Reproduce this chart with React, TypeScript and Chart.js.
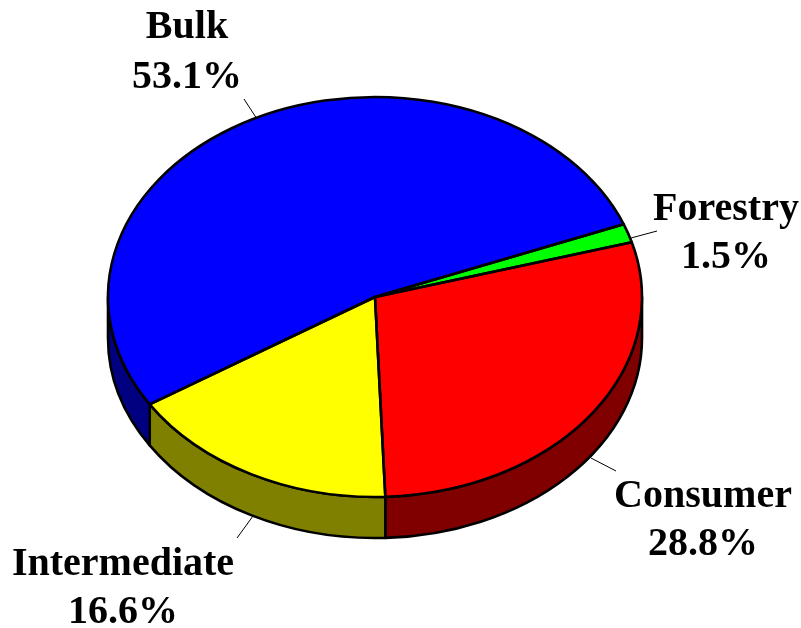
import React, { useEffect, useRef } from "react";
import { Chart, registerables } from "chart.js";

Chart.register(...registerables);

const categories = ["Consumer", "Intermediate", "Bulk", "Forestry"];
const shares = [28.8, 16.6, 53.1, 1.5];
const topColors = ["#ff0000", "#ffff00", "#0000ff", "#00ff00"];
const wallColors = ["#800000", "#808000", "#000080", "#008000"];

const W = 801;
const H = 628;
const CX = 375;
const CY = 297;
const RX = 267;
const RY = 200;
const DEPTH = 41;
const FONT = 'bold 40px "Liberation Serif"';
const OUTLINE = 2.6;

const labelPlacement = [
  { x: 703, y: 496.5, gap: 48, lx0: 591, ly0: 458, lx1: 616, ly1: 471 },
  { x: 123, y: 564.5, gap: 48, lx0: 253, ly0: 516, lx1: 237, ly1: 538 },
  { x: 187, y: 28, gap: 50, lx0: 257, ly0: 119, lx1: 244, ly1: 99 },
  { x: 726, y: 210, gap: 48, lx0: 631, ly0: 238, lx1: 657, ly1: 231 },
];

const pie3d = {
  id: "pie3d",
  beforeDatasetsDraw(chart: any) {
    const ctx = chart.ctx;
    const k = RY / RX;
    const arcs = chart.getDatasetMeta(0).data;
    arcs.forEach((arc: any, i: number) => {
      const norm = (a: number) => Math.atan2(Math.sin(a), Math.cos(a));
      let a0 = norm(arc.startAngle);
      let a1 = a0 + (arc.endAngle - arc.startAngle);
      if (a0 < 0 && a1 <= 0) return;
      a0 = Math.max(a0, 0);
      a1 = Math.min(a1, Math.PI);
      if (a1 <= a0) return;
      ctx.save();
      ctx.beginPath();
      ctx.ellipse(CX, CY, RX, RY, 0, a0, a1, false);
      ctx.ellipse(CX, CY + DEPTH, RX, RY, 0, a1, a0, true);
      ctx.closePath();
      ctx.fillStyle = wallColors[i];
      ctx.fill();
      ctx.strokeStyle = "#000";
      ctx.lineWidth = OUTLINE;
      ctx.lineJoin = "round";
      ctx.stroke();
      ctx.restore();
    });
    ctx.save();
    ctx.translate(0, CY);
    ctx.scale(1, k);
    ctx.translate(0, -CY);
  },
  afterDatasetsDraw(chart: any) {
    const ctx = chart.ctx;
    ctx.restore();
    ctx.save();
    ctx.strokeStyle = "#000";
    ctx.lineJoin = "round";
    ctx.lineWidth = OUTLINE;
    chart.getDatasetMeta(0).data.forEach((arc: any) => {
      ctx.beginPath();
      ctx.moveTo(CX, CY);
      ctx.ellipse(CX, CY, RX, RY, 0, arc.startAngle, arc.endAngle, false);
      ctx.closePath();
      ctx.stroke();
    });
    ctx.lineWidth = 1;
    ctx.fillStyle = "#000";
    ctx.font = FONT;
    ctx.textAlign = "center";
    ctx.textBaseline = "middle";
    categories.forEach((name, i) => {
      const p = labelPlacement[i];
      ctx.beginPath();
      ctx.moveTo(p.lx0, p.ly0);
      ctx.lineTo(p.lx1, p.ly1);
      ctx.stroke();
      ctx.fillText(name, p.x, p.y);
      ctx.fillText(shares[i].toFixed(1) + "%", p.x, p.y + p.gap);
    });
    ctx.restore();
  },
};

export default function App() {
  const ref = useRef<HTMLCanvasElement>(null);
  useEffect(() => {
    document.body.style.margin = "0";
    document.body.style.background = "#fff";
    const chart = new Chart(ref.current!, {
      type: "pie",
      data: {
        labels: categories,
        datasets: [
          {
            data: shares,
            backgroundColor: topColors,
            borderWidth: 0,
            radius: RX,
          } as any,
        ],
      },
      options: {
        responsive: false,
        animation: false,
        rotation: 74.1,
        layout: { padding: { left: 0, right: W - 2 * CX, top: 0, bottom: H - 2 * CY } },
        plugins: { legend: { display: false }, tooltip: { enabled: false } },
      },
      plugins: [pie3d],
    });
    return () => chart.destroy();
  }, []);
  return <canvas ref={ref} width={W} height={H} style={{ display: "block", width: W, height: H }} />;
}
